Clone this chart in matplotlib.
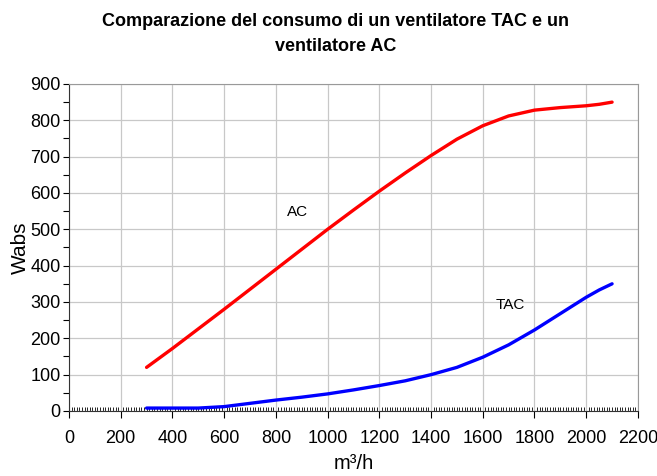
import matplotlib
matplotlib.use('Agg')
import matplotlib.pyplot as plt
from matplotlib.ticker import MultipleLocator

# Data
flow = [300, 400, 500, 600, 700, 800, 900, 1000, 1100, 1200, 1300, 1400,
        1500, 1600, 1700, 1800, 1900, 2000, 2050, 2100]
ac_power = [120, 172, 226, 280, 335, 390, 445, 500, 553, 605, 655, 703,
            748, 785, 812, 828, 835, 840, 844, 850]
tac_power = [8, 8, 8, 12, 21, 30, 38, 47, 58, 70, 83, 100,
             120, 148, 182, 223, 268, 313, 333, 350]

plt.rcParams['font.family'] = ['Liberation Sans', 'DejaVu Sans']

fig = plt.figure(figsize=(6.57, 4.76), dpi=100)
ax = fig.add_axes([0.105, 0.1366, 0.866, 0.687])

ax.plot(flow, ac_power, color='#ff0000', linewidth=2.4, solid_capstyle='round', zorder=3)
ax.plot(flow, tac_power, color='#0000ff', linewidth=2.4, solid_capstyle='round', zorder=3)

ax.text(882, 548, 'AC', fontsize=11, ha='center', va='center')
ax.text(1705, 292, 'TAC', fontsize=11, ha='center', va='center')

ax.set_xlim(0, 2200)
ax.set_ylim(0, 900)
ax.xaxis.set_major_locator(MultipleLocator(200))
ax.xaxis.set_minor_locator(MultipleLocator(10))
ax.yaxis.set_major_locator(MultipleLocator(100))
ax.yaxis.set_minor_locator(MultipleLocator(50))
ax.grid(True, which='major', color='#c8c8c8', linewidth=0.9)
ax.set_axisbelow(True)

ax.tick_params(axis='x', which='major', direction='out', length=5, width=0.8,
               labelsize=13, pad=9)
ax.tick_params(axis='x', which='minor', direction='in', length=3, width=0.6)
ax.tick_params(axis='y', which='both', direction='out', length=4, width=0.8,
               labelsize=13, pad=2)

for side in ('top', 'right'):
    ax.spines[side].set_color('#999999')
for side in ('left', 'bottom'):
    ax.spines[side].set_color('#333333')

ax.set_xlabel('m³/h', fontsize=14.5, labelpad=5)
ax.set_ylabel('Wabs', fontsize=15, labelpad=0)

fig.text(0.511, 0.972, 'Comparazione del consumo di un ventilatore TAC e un\nventilatore AC',
         ha='center', va='top', fontsize=13, fontweight='bold', linespacing=1.6)

fig.savefig('out.png', dpi=100)
